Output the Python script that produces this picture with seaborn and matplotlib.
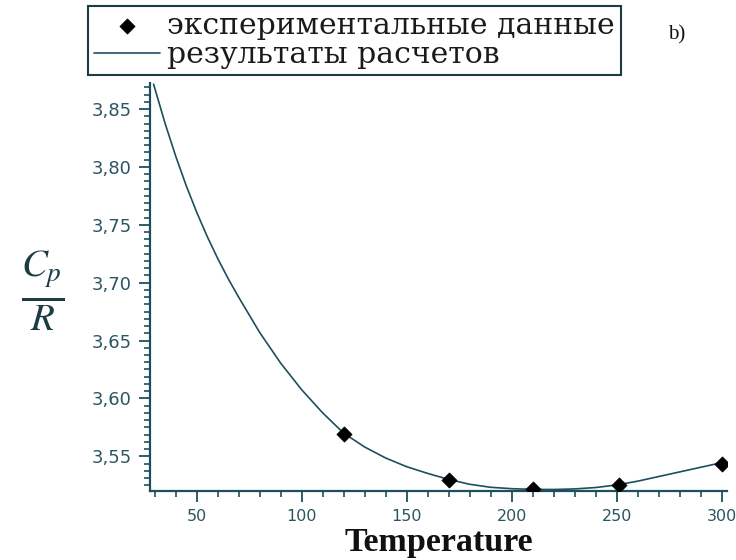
import matplotlib
matplotlib.use("Agg")
import matplotlib.pyplot as plt
import matplotlib.ticker as mticker
import seaborn as sns
import pandas as pd

# experimental data
exp_T = [120, 170, 210, 251, 300]
exp_cp = [3.5696, 3.5293, 3.5215, 3.5255, 3.5437]

# calculated curve
calc_T = [29.5, 35, 40, 45, 50, 55, 60, 65, 70, 80, 90, 100, 110, 120, 130,
          140, 150, 160, 170, 180, 190, 200, 210, 220, 230, 240, 250, 260,
          270, 280, 290, 300]
calc_cp = [3.8715, 3.8375, 3.8095, 3.784, 3.761, 3.740, 3.721, 3.7035,
           3.6875, 3.657, 3.6305, 3.6075, 3.5875, 3.570, 3.558, 3.5485,
           3.541, 3.5352, 3.530, 3.5258, 3.5232, 3.522, 3.5214, 3.5213,
           3.5218, 3.523, 3.5252, 3.5285, 3.5325, 3.5365, 3.5405, 3.5445]

label_exp = "экспериментальные данные"
label_calc = "результаты расчетов"
x_label = "Temperature"
y_label = r"$\frac{C_p}{R}$"
panel = "b)"

sns.set_theme(style="white")
plt.rcParams["font.family"] = ["DejaVu Sans"]
plt.rcParams["mathtext.fontset"] = "stix"

axis_col = "#1d4f5c"

fig = plt.figure(figsize=(7.36, 5.6), dpi=100)
ax = fig.add_axes([150 / 736, 1 - 491 / 560, (727 - 150) / 736, (491 - 83) / 560])

df_calc = pd.DataFrame({"T": calc_T, "cp": calc_cp})
df_exp = pd.DataFrame({"T": exp_T, "cp": exp_cp})

sns.lineplot(data=df_calc, x="T", y="cp", ax=ax, color=axis_col, lw=1.2,
             label=label_calc, sort=True)
sns.scatterplot(data=df_exp, x="T", y="cp", ax=ax, color="black", marker="D",
                s=60, edgecolor="black", linewidth=0.5, label=label_exp, zorder=5)

ax.set_xlim(27.8, 302.5)
ax.set_ylim(3.520, 3.8725)

ax.xaxis.set_major_locator(mticker.MultipleLocator(50))
ax.xaxis.set_minor_locator(mticker.MultipleLocator(10))
ax.yaxis.set_major_locator(mticker.MultipleLocator(0.05))
ax.yaxis.set_minor_locator(mticker.AutoMinorLocator(8))
ax.yaxis.set_major_formatter(mticker.FuncFormatter(lambda v, p: f"{v:.2f}".replace(".", ",")))

for s in ["top", "right"]:
    ax.spines[s].set_visible(False)
for s in ["left", "bottom"]:
    ax.spines[s].set_color(axis_col)
    ax.spines[s].set_linewidth(1.6)

ax.tick_params(axis="both", which="major", direction="out", length=8, width=1.3,
               color=axis_col, labelcolor="#2b5561", left=True, bottom=True)
ax.tick_params(axis="y", which="major", labelsize=13, pad=5)
ax.tick_params(axis="x", which="major", labelsize=11.5, pad=5)
ax.tick_params(axis="both", which="minor", direction="out", length=4, width=1.2,
               color=axis_col, left=True, bottom=True)

ax.set_xlabel(x_label, fontsize=24.5, family="Liberation Serif", fontweight="bold",
              color="#111111", va="center")
ax.xaxis.set_label_coords(0.5, (491 - 543) / 408)
ax.set_ylabel(y_label, fontsize=40, rotation=0, color="#1d3a45", va="center", ha="center")
ax.yaxis.set_label_coords((43 - 150) / 577, (491 - 291) / 408)

handles, labels = ax.get_legend_handles_labels()
order = [labels.index(label_exp), labels.index(label_calc)]
leg = ax.legend([handles[i] for i in order], [labels[i] for i in order],
                loc="upper left", bbox_to_anchor=(88 / 736, 1 - 6 / 560),
                bbox_transform=fig.transFigure, frameon=True, fancybox=False,
                edgecolor="#1d3a45", framealpha=1, borderaxespad=0, borderpad=0.2,
                handlelength=2.2, handletextpad=0.25, labelspacing=0.04,
                prop={"family": "DejaVu Serif", "size": 21.5})
leg.get_frame().set_linewidth(1.5)
for t in leg.get_texts():
    t.set_color("#1a1a1a")

fig.text(677 / 736, 1 - 35 / 560, panel, fontsize=15, family="Liberation Serif",
         ha="center", va="center", color="#111111")

fig.savefig("out.png", dpi=100, facecolor="white")
